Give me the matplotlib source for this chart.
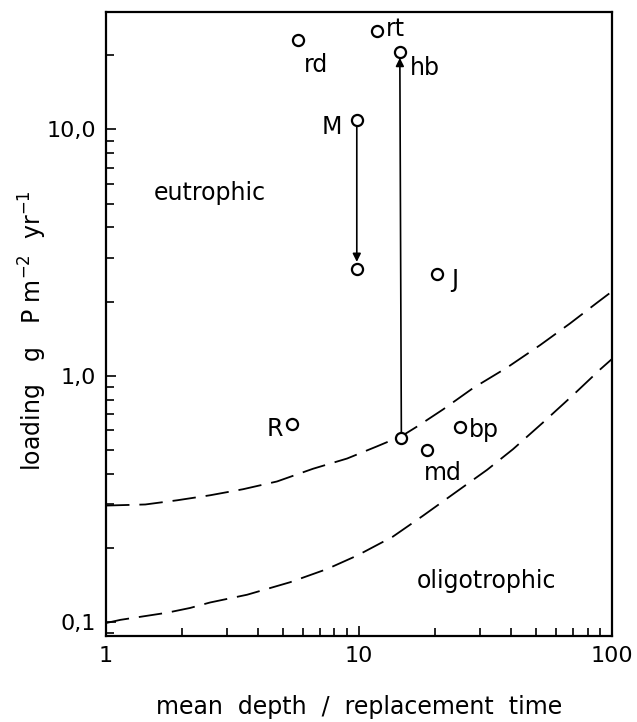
import matplotlib.pyplot as plt
from matplotlib.ticker import FixedLocator, LogLocator, NullFormatter

# lake points: (mean depth / replacement time, P loading g m-2 yr-1)
x_pts = [5.74, 11.8, 14.5, 9.8, 9.8, 20.3, 5.43, 14.7, 18.6, 25.1]
y_pts = [23.0, 25.0, 20.7, 10.9, 2.71, 2.59, 0.638, 0.558, 0.50, 0.62]
labels = ["rd", "rt", "hb", "M", "", "J", "R", "", "md", "bp"]

# dashed boundary lines
upper_x = [1, 1.43, 1.91, 2.58, 3.48, 4.74, 6.58, 8.97, 11.8, 14.8, 17.1, 21.5,
           28.2, 38.5, 51.9, 68.2, 87.3, 100]
upper_y = [0.297, 0.300, 0.312, 0.327, 0.346, 0.372, 0.419, 0.461, 0.517, 0.570,
           0.625, 0.73, 0.89, 1.08, 1.33, 1.63, 1.98, 2.2]
lower_x = [1, 1.14, 1.74, 2.15, 2.58, 3.61, 5.34, 7.47, 9.82, 13.6, 17.9, 23.5,
           32.1, 40.6, 53.3, 70.1, 89.7, 100]
lower_y = [0.099, 0.102, 0.109, 0.114, 0.120, 0.129, 0.145, 0.164, 0.186, 0.222,
           0.270, 0.330, 0.415, 0.503, 0.645, 0.834, 1.06, 1.17]

fs = 17
plt.rcParams['font.family'] = 'DejaVu Sans'

fig = plt.figure(figsize=(6.37, 7.22), dpi=100)
ax = fig.add_axes([0.1664, 0.1191, 0.7944, 0.8643])
ax.set_xscale('log')
ax.set_yscale('log')
ax.set_xlim(1, 100)
ax.set_ylim(0.0877, 30.0)

ax.plot(upper_x, upper_y, color='black', lw=1.3, dashes=(13, 5.5))
ax.plot(lower_x, lower_y, color='black', lw=1.3, dashes=(13, 5.5))

# arrows: M moves down, hb moves up
ax.annotate("", xy=(x_pts[4], y_pts[4] * 1.07), xytext=(x_pts[3], y_pts[3] / 1.05),
            arrowprops=dict(arrowstyle='-|>', color='black', lw=1.2, mutation_scale=12,
                            shrinkA=0, shrinkB=0))
ax.annotate("", xy=(x_pts[2], y_pts[2] / 1.06), xytext=(x_pts[7], y_pts[7] * 1.05),
            arrowprops=dict(arrowstyle='-|>', color='black', lw=1.2, mutation_scale=12,
                            shrinkA=0, shrinkB=0))

ax.plot(x_pts, y_pts, 'o', ms=8, mfc='white', mec='black', mew=1.6, zorder=5)

offsets = {"rd": (13, -18, 'center'), "rt": (6, 2, 'left'), "hb": (7, -12, 'left'),
           "M": (-11, -5, 'right'), "J": (10, -4, 'left'), "R": (-6, -4, 'right'),
           "md": (11, -17, 'center'), "bp": (6, -2, 'left')}
for x, y, lab in zip(x_pts, y_pts, labels):
    if lab:
        dx, dy, ha = offsets[lab]
        ax.annotate(lab, (x, y), xytext=(dx, dy), textcoords='offset points',
                    ha=ha, va='center', fontsize=fs)

ax.text(2.58, 5.5, "eutrophic", fontsize=fs, ha='center', va='center')
ax.text(32, 0.147, "oligotrophic", fontsize=fs, ha='center', va='center')

ax.xaxis.set_major_locator(FixedLocator([1, 10, 100]))
ax.set_xticklabels(["1", "10", "100"])
ax.xaxis.set_minor_locator(LogLocator(base=10, subs=range(2, 10)))
ax.xaxis.set_minor_formatter(NullFormatter())
ax.yaxis.set_major_locator(FixedLocator([0.1, 1, 10]))
ax.set_yticklabels(["0,1", "1,0", "10,0"])
ax.yaxis.set_minor_locator(LogLocator(base=10, subs=range(2, 10)))
ax.yaxis.set_minor_formatter(NullFormatter())
ax.tick_params(which='both', direction='in', top=False, right=False,
               labelsize=16, width=1.2, color='black')
ax.tick_params(which='major', length=7, pad=7)
ax.tick_params(which='minor', length=6)
for s in ax.spines.values():
    s.set_linewidth(1.6)

ax.set_xlabel("mean  depth  /  replacement  time", fontsize=fs)
ax.set_ylabel("loading   g   P m$^{-2}$  yr$^{-1}$", fontsize=fs)
ax.xaxis.set_label_coords(0.5, -0.095)
ax.yaxis.set_label_coords(-0.112, 0.49)

fig.savefig("out.png", dpi=100)
